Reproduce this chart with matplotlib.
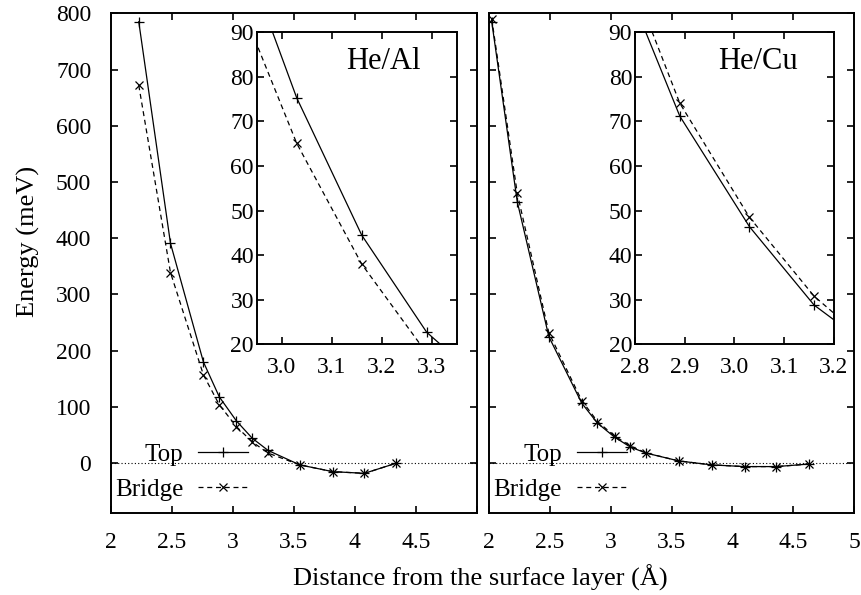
import matplotlib
matplotlib.use("Agg")
import matplotlib.pyplot as plt

plt.rcParams["font.family"] = ["Liberation Serif", "DejaVu Serif"]

# ── Data ──────────────────────────────────────────────────
al_x      = [2.23, 2.49, 2.76, 2.89, 3.03, 3.16, 3.29, 3.55, 3.82, 4.08, 4.34]
al_top    = [785, 391, 180, 118, 75.3, 44.5, 22.7, -3, -15, -18, 0]
al_bridge = [672, 339, 157, 104, 65.1, 38.0, 18.0, -3, -15, -18, 0]

cu_x      = [2.02, 2.23, 2.49, 2.76, 2.89, 3.03, 3.16, 3.29, 3.56, 3.83, 4.10, 4.36, 4.63]
cu_top    = [785, 465, 225, 107, 71.2, 46.4, 28.8, 18.0, 4, -3, -6, -6, -1.5]
cu_bridge = [790, 480, 232, 111.5, 74.1, 48.5, 30.8, 18.3, 4, -3, -6, -6, -1.5]

main_xticks = [2, 2.5, 3, 3.5, 4, 4.5, 5]
main_yticks = [0, 100, 200, 300, 400, 500, 600, 700, 800]
inset_yticks = [20, 30, 40, 50, 60, 70, 80, 90]
al_inset_xticks = [3.0, 3.1, 3.2, 3.3]
cu_inset_xticks = [2.8, 2.9, 3.0, 3.1, 3.2]

TICK_FS = 17
LABEL_FS = 19
LEG_FS = 18
W, H = 861, 595

def frac(x0, y0, x1, y1):
    # pixel box -> figure fraction [left, bottom, width, height]
    return [x0 / W, 1 - y1 / H, (x1 - x0) / W, (y1 - y0) / H]

def style(ax, xpad, ypad):
    for s in ax.spines.values():
        s.set_linewidth(1.4)
    ax.tick_params(direction="in", which="both", top=True, right=True,
                   length=5, width=1.2, labelsize=TICK_FS)
    ax.tick_params(axis="x", pad=xpad)
    ax.tick_params(axis="y", pad=ypad)

def curves(ax, x, top, bridge, label=True):
    ax.plot(x, top, color="black", lw=0.9, marker="+", ms=7, mew=0.9,
            label="Top" if label else None)
    ax.plot(x, bridge, color="black", lw=0.9, ls=(0, (4, 3)), marker="x",
            ms=5.5, mew=0.9, label="Bridge" if label else None)

fig = plt.figure(figsize=(W / 100, H / 100), dpi=100)

ax_al = fig.add_axes(frac(110.7, 13.3, 476.7, 512.7))
ax_cu = fig.add_axes(frac(489.3, 13.3, 854.0, 512.7))
in_al = fig.add_axes(frac(256.7, 32.3, 456.7, 344.3))
in_cu = fig.add_axes(frac(635.0, 32.3, 834.0, 344.3))

for ax, x, top, bridge in [(ax_al, al_x, al_top, al_bridge),
                           (ax_cu, cu_x, cu_top, cu_bridge)]:
    ax.axhline(0, color="black", lw=0.8, ls=(0, (1, 2)))
    curves(ax, x, top, bridge)
    ax.set_xlim(2, 5)
    ax.set_ylim(-88, 800)
    ax.set_xticks(main_xticks)
    ax.set_yticks(main_yticks)
    style(ax, xpad=14, ypad=14)
    ax.legend(loc="lower left", bbox_to_anchor=(0.012, 0.024),
              markerfirst=False, frameon=False, fontsize=LEG_FS,
              handlelength=2.0, handletextpad=0.6, labelspacing=0.48,
              borderpad=0, borderaxespad=0)

ax_al.set_xticklabels(["2", "2.5", "3", "3.5", "4", "4.5", ""])
ax_cu.set_xticklabels(["2", "2.5", "3", "3.5", "4", "4.5", "5"])
ax_cu.set_yticklabels([])

for ax, x, top, bridge, xl, xt, name in [
        (in_al, al_x, al_top, al_bridge, (2.95, 3.35), al_inset_xticks, "He/Al"),
        (in_cu, cu_x, cu_top, cu_bridge, (2.8, 3.2), cu_inset_xticks, "He/Cu")]:
    curves(ax, x, top, bridge, label=False)
    ax.set_xlim(*xl)
    ax.set_ylim(20, 90)
    ax.set_xticks(xt)
    ax.set_xticklabels([f"{v:.1f}" for v in xt])
    ax.set_yticks(inset_yticks)
    style(ax, xpad=9, ypad=2)
    ax.text(0.82, 0.905, name, transform=ax.transAxes, ha="right", va="center",
            fontsize=22)

fig.text(480 / W, 1 - 578 / H, "Distance from the surface layer (Å)",
         ha="center", va="center", fontsize=LABEL_FS)
fig.text(28 / W, 1 - 241 / H, "Energy (meV)", rotation=90,
         ha="center", va="center", fontsize=LABEL_FS)

fig.savefig("out.png", dpi=100)
